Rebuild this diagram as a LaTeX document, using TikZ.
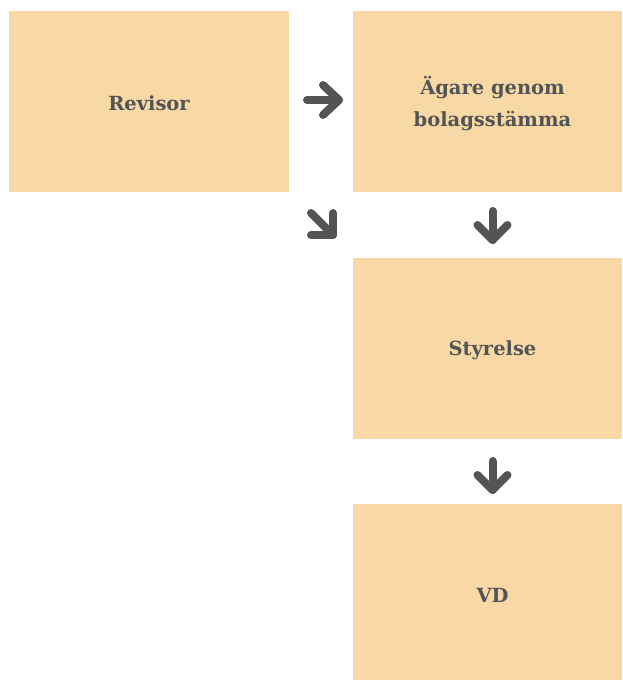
\documentclass[tikz,border=0pt]{standalone}
\usepackage{fontspec}
\usetikzlibrary{calc}
\setmainfont{DejaVu Serif}
\definecolor{boxfill}{HTML}{F8D8A5}
\definecolor{ink}{HTML}{535456}
\begin{document}
\begin{tikzpicture}[x=0.75pt,y=-0.75pt,
  box/.style={fill=boxfill,draw=none,inner sep=0pt},
  txt/.style={text=ink,align=center,inner sep=0pt,
    font=\bfseries\fontsize{14.6}{24}\selectfont},
  arr/.style={draw=ink,line width=6pt,line cap=round,line join=round}]
\useasboundingbox (0,0) rectangle (622,680);
\node[box,minimum width=210pt,minimum height=135.75pt,
  label={[txt,yshift=-1pt]center:Revisor}] (rev) at (149,101.5) {};
\node[box,minimum width=201.75pt,minimum height=135.75pt,
  label={[txt,xshift=3.75pt,yshift=-1.5pt]center:Ägare genom\\bolagsstämma}] (agare) at (487.5,101.5) {};
\node[box,minimum width=201.75pt,minimum height=135.75pt,
  label={[txt,xshift=3.75pt,yshift=-1.5pt]center:Styrelse}] (sty) at (487.5,348.5) {};
\node[box,minimum width=201.75pt,minimum height=132pt,
  label={[txt,xshift=3.75pt,yshift=-2.5pt]center:VD}] (vd) at (487.5,592) {};
% arrow anchor coordinates
\coordinate (r1) at (307,100);
\coordinate (r2) at (339,100);
\coordinate (d1) at (311,213);
\coordinate (d2) at (333,235);
\coordinate (a1) at (492.5,211);
\coordinate (a2) at (492.5,240);
\coordinate (b1) at (492.5,461);
\coordinate (b2) at (492.5,490);
\draw[arr] (r1) -- (r2);
\draw[arr] ($(r2)+(-16,-15)$) -- (r2) -- ($(r2)+(-16,15)$);
\draw[arr] (d1) -- (d2);
\draw[arr] ($(d2)+(0,-22)$) -- (d2) -- ($(d2)+(-22,0)$);
\draw[arr] (a1) -- (a2);
\draw[arr] ($(a2)+(-15,-15)$) -- (a2) -- ($(a2)+(15,-15)$);
\draw[arr] (b1) -- (b2);
\draw[arr] ($(b2)+(-15,-15)$) -- (b2) -- ($(b2)+(15,-15)$);
\end{tikzpicture}
\end{document}
